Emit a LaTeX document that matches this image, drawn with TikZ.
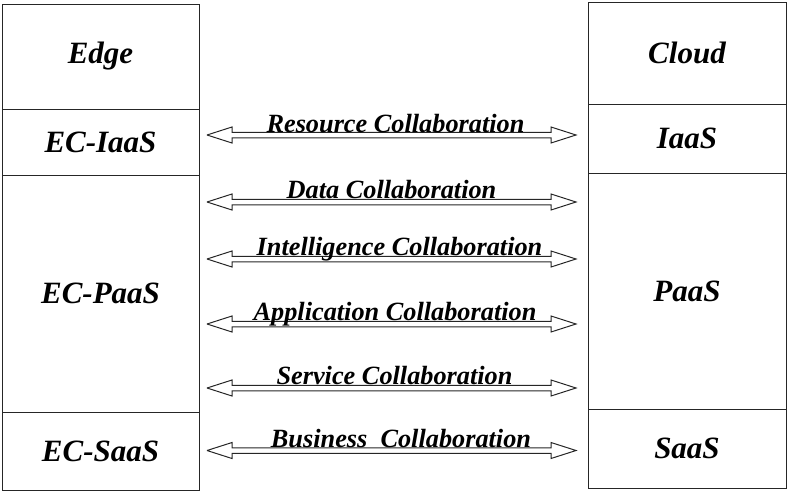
\documentclass[tikz,border=0pt]{standalone}
\usepackage{fontspec}
\setmainfont{Liberation Serif}
\usetikzlibrary{calc}
\tikzset{
  layer/.style={draw=black!85, line width=0.9pt, rectangle, inner sep=0pt, outer sep=0pt,
    font=\fontsize{31}{35}\selectfont\bfseries\itshape},
  collab/.style={anchor=base, inner sep=0pt, font=\fontsize{26.3}{30}\selectfont\bfseries\itshape},
  hollowarrow/.style={draw=black!85, line width=1pt, line join=miter,
    to path={let \p1=(\tikztostart), \p2=(\tikztotarget) in
      -- (\x1+25pt,\y1+8pt) -- (\x1+25pt,\y1+2.75pt) -- (\x2-25pt,\y1+2.75pt)
      -- (\x2-25pt,\y1+8pt) -- (\p2) -- (\x2-25pt,\y1-8pt) -- (\x2-25pt,\y1-2.75pt)
      -- (\x1+25pt,\y1-2.75pt) -- (\x1+25pt,\y1-8pt) -- (\p1)}}
}
\begin{document}
\begin{tikzpicture}[x=1pt,y=-1pt]
\useasboundingbox (0,0) rectangle (788,493);
% left column
\node[layer, minimum width=197pt, minimum height=105pt] (edge) at (100.5,56.5) {Edge};
\node[layer, minimum width=197pt, minimum height=66pt] (eciaas) at (100.5,142) {EC-IaaS};
\node[layer, minimum width=197pt, minimum height=237pt] (ecpaas) at (100.5,293.5) {EC-PaaS};
\node[layer, minimum width=197pt, minimum height=78pt] (ecsaas) at (100.5,451) {EC-SaaS};
% right column
\node[layer, minimum width=198pt, minimum height=102pt] (cloud) at (687,53) {Cloud};
\node[layer, minimum width=198pt, minimum height=69pt] (iaas) at (687,138.5) {IaaS};
\node[layer, minimum width=198pt, minimum height=236pt] (paas) at (687,291) {PaaS};
\node[layer, minimum width=198pt, minimum height=79pt] (saas) at (687,448.5) {SaaS};
% arrows
\foreach \nm/\yy in {res/135, dat/202, int/259, app/324, ser/388, bus/450.5}{
  \coordinate (\nm L) at (207,\yy);
  \coordinate (\nm R) at (576,\yy);
}
\draw[hollowarrow] (resL) to (resR);
\draw[hollowarrow] (datL) to (datR);
\draw[hollowarrow] (intL) to (intR);
\draw[hollowarrow] (appL) to (appR);
\draw[hollowarrow] (serL) to (serR);
\draw[hollowarrow] (busL) to (busR);
% labels
\node[collab] (lres) at (395.5,132) {Resource Collaboration};
\node[collab] (ldat) at (391.5,198.5) {Data Collaboration};
\node[collab] (lint) at (399.5,255.5) {Intelligence Collaboration};
\node[collab] (lapp) at (395,320.5) {Application Collaboration};
\node[collab] (lser) at (394.5,384.5) {Service Collaboration};
\node[collab] (lbus) at (401,447) {Business\ \ Collaboration};
\end{tikzpicture}
\end{document}
